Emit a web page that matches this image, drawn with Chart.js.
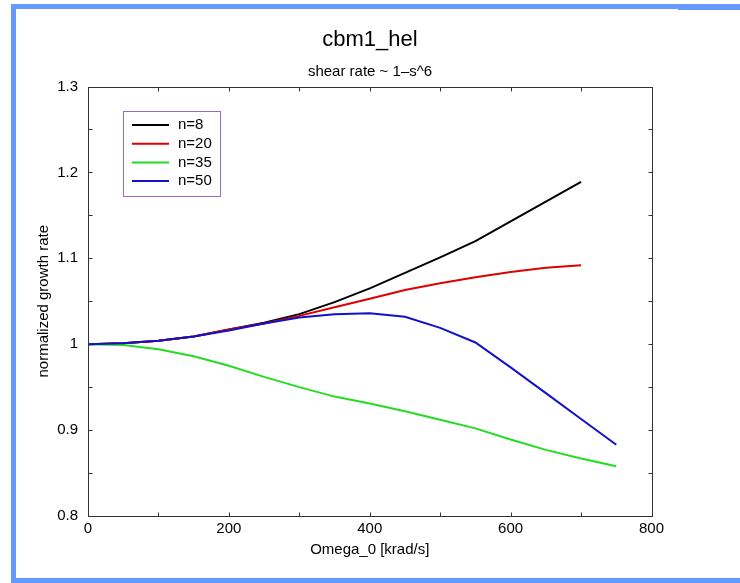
<!DOCTYPE html>
<html>
<head>
<meta charset="utf-8">
<title>cbm1_hel</title>
<script src="https://cdn.jsdelivr.net/npm/chart.js@4.4.1/dist/chart.umd.min.js"></script>
<style>
  html, body { margin: 0; padding: 0; background: #fff; }
  #wrap { position: relative; width: 740px; height: 583px; overflow: hidden; }
  #wrap canvas { position: absolute; left: 0; top: 0; }
  .edge { position: absolute; background: #6699ff; }
  .edge.left   { left: 11px;  top: 4px;   width: 5px;   height: 579px; }
  .edge.top    { left: 11px;  top: 4px;   width: 729px; height: 5px; }
  .edge.topR   { left: 678px; top: 4px;   width: 62px;  height: 6px; }
  .edge.bottom { left: 11px;  top: 578px; width: 729px; height: 5px; }
</style>
</head>
<body>
<div id="wrap">
  <canvas id="growthChart" width="740" height="583"></canvas>
  <div class="edge left"></div>
  <div class="edge top"></div>
  <div class="edge topR"></div>
  <div class="edge bottom"></div>
</div>
<script>
// Omega_0 grid [krad/s] for each run
const omegaTo700 = [0, 50, 100, 150, 200, 250, 300, 350, 400, 450, 500, 550, 600, 650, 700];
const omegaTo750 = [0, 50, 100, 150, 200, 250, 300, 350, 400, 450, 500, 550, 600, 650, 700, 750];

// normalized growth rate per toroidal mode number
const rateN8  = [1.000, 1.001, 1.004, 1.009, 1.017, 1.025, 1.035, 1.049, 1.065, 1.083, 1.101, 1.120, 1.143, 1.166, 1.189];
const rateN20 = [1.000, 1.001, 1.004, 1.009, 1.017, 1.024, 1.033, 1.043, 1.053, 1.063, 1.071, 1.078, 1.084, 1.089, 1.092];
const rateN35 = [1.000, 0.999, 0.994, 0.986, 0.975, 0.962, 0.950, 0.939, 0.931, 0.922, 0.912, 0.902, 0.889, 0.877, 0.867, 0.858];
const rateN50 = [1.000, 1.001, 1.004, 1.009, 1.016, 1.024, 1.031, 1.035, 1.036, 1.032, 1.019, 1.002, 0.973, 0.943, 0.913, 0.883];

const seriesLabels = ['n=8', 'n=20', 'n=35', 'n=50'];
const seriesColors = ['#000000', '#e00000', '#22dd22', '#1111cc'];

// only these ticks get a number, the rest are plain tick marks
const xTickLabels = ['0', '200', '400', '600', '800'];
const yTickLabels = ['0.8', '0.9', '1', '1.1', '1.2', '1.3'];

const FONT = '"Liberation Sans", Arial, Helvetica, sans-serif';
const TICK_LEN = 4;

function toPoints(xs, ys) {
    return xs.map((x, i) => ({ x: x, y: ys[i] }));
}

// box around the plot area with inward ticks on all four sides
const frameTicks = {
    id: 'frameTicks',
    beforeDatasetsDraw(chart) {
        const { ctx, chartArea: a, scales: { x, y } } = chart;
        const left = Math.round(a.left) + 0.5, right = Math.round(a.right) + 0.5;
        const top = Math.round(a.top) + 0.5, bottom = Math.round(a.bottom) + 0.5;
        ctx.save();
        ctx.strokeStyle = '#333';
        ctx.lineWidth = 1;
        ctx.beginPath();
        x.ticks.forEach(t => {
            const px = Math.round(x.getPixelForValue(t.value)) + 0.5;
            ctx.moveTo(px, bottom); ctx.lineTo(px, bottom - TICK_LEN);
            ctx.moveTo(px, top);    ctx.lineTo(px, top + TICK_LEN);
        });
        y.ticks.forEach(t => {
            const py = Math.round(y.getPixelForValue(t.value)) + 0.5;
            ctx.moveTo(left, py);  ctx.lineTo(left + TICK_LEN, py);
            ctx.moveTo(right, py); ctx.lineTo(right - TICK_LEN, py);
        });
        ctx.stroke();
        ctx.strokeRect(left, top, right - left, bottom - top);
        ctx.restore();
    }
};

// framed legend sitting inside the plot
const boxLegend = {
    id: 'boxLegend',
    afterDatasetsDraw(chart, args, opts) {
        const { ctx } = chart;
        ctx.save();
        ctx.fillStyle = '#fff';
        ctx.fillRect(opts.left, opts.top, opts.width, opts.height);
        ctx.strokeStyle = opts.borderColor;
        ctx.lineWidth = 1;
        ctx.strokeRect(opts.left + 0.5, opts.top + 0.5, opts.width, opts.height);
        ctx.font = '15px ' + FONT;
        ctx.textBaseline = 'middle';
        ctx.textAlign = 'left';
        chart.data.datasets.forEach((ds, i) => {
            const rowY = opts.top + opts.firstRow + i * opts.rowGap;
            ctx.strokeStyle = ds.borderColor;
            ctx.lineWidth = ds.borderWidth;
            ctx.beginPath();
            ctx.moveTo(opts.left + 9, rowY);
            ctx.lineTo(opts.left + 46, rowY);
            ctx.stroke();
            ctx.fillStyle = '#000';
            ctx.fillText(ds.label, opts.left + 55, rowY);
        });
        ctx.restore();
    }
};

const runs = [
    { xs: omegaTo700, ys: rateN8,  order: 4 },
    { xs: omegaTo700, ys: rateN20, order: 3 },
    { xs: omegaTo750, ys: rateN35, order: 2 },
    { xs: omegaTo750, ys: rateN50, order: 1 }
];

new Chart(document.getElementById('growthChart'), {
    type: 'line',
    data: {
        datasets: runs.map((r, i) => ({
            label: seriesLabels[i],
            data: toPoints(r.xs, r.ys),
            borderColor: seriesColors[i],
            backgroundColor: seriesColors[i],
            borderWidth: 2,
            pointRadius: 0,
            tension: 0,
            fill: false,
            order: r.order
        }))
    },
    options: {
        responsive: false,
        animation: false,
        events: [],
        layout: { padding: 0 },
        plugins: {
            legend: { display: false },
            tooltip: { enabled: false },
            title: {
                display: true,
                text: 'cbm1_hel',
                color: '#000',
                font: { family: FONT, size: 22, weight: 'normal' },
                padding: { top: 27, bottom: 0 }
            },
            subtitle: {
                display: true,
                text: 'shear rate ~ 1\u2013s^6',
                color: '#000',
                font: { family: FONT, size: 15, weight: 'normal' },
                padding: { top: 9.2, bottom: 5.9 }
            },
            boxLegend: { left: 123, top: 111, width: 97, height: 85, firstRow: 14, rowGap: 18.7, borderColor: '#9966cc' }
        },
        scales: {
            x: {
                type: 'linear',
                min: 0,
                max: 800,
                grid: { display: false, drawTicks: false },
                border: { display: false },
                ticks: {
                    stepSize: 100,
                    autoSkip: false,
                    maxRotation: 0,
                    padding: 4,
                    color: '#000',
                    font: { family: FONT, size: 15 },
                    callback: v => xTickLabels.includes(String(v)) ? String(v) : ''
                },
                title: {
                    display: true,
                    text: 'Omega_0 [krad/s]',
                    color: '#000',
                    font: { family: FONT, size: 15 },
                    padding: { top: 0, bottom: 24 }
                },
                afterFit: s => { s.height = 67; }
            },
            y: {
                type: 'linear',
                min: 0.8,
                max: 1.3,
                grid: { display: false, drawTicks: false },
                border: { display: false },
                ticks: {
                    stepSize: 0.05,
                    autoSkip: false,
                    padding: 10,
                    color: '#000',
                    font: { family: FONT, size: 15 },
                    callback: v => {
                        const s = String(Math.round(v * 100) / 100);
                        return yTickLabels.includes(s) ? s : '';
                    }
                },
                title: {
                    display: true,
                    text: 'normalized growth rate',
                    color: '#000',
                    font: { family: FONT, size: 15 },
                    padding: { top: 34.5, bottom: 0 }
                },
                afterFit: s => { s.width = 88; }
            },
            // empty right-hand axis that only reserves the margin on that side
            yRight: {
                type: 'linear',
                position: 'right',
                min: 0.8,
                max: 1.3,
                grid: { display: false, drawTicks: false },
                border: { display: false },
                ticks: { display: false },
                afterFit: s => { s.width = 88.5; }
            }
        }
    },
    plugins: [frameTicks, boxLegend]
});
</script>
</body>
</html>
